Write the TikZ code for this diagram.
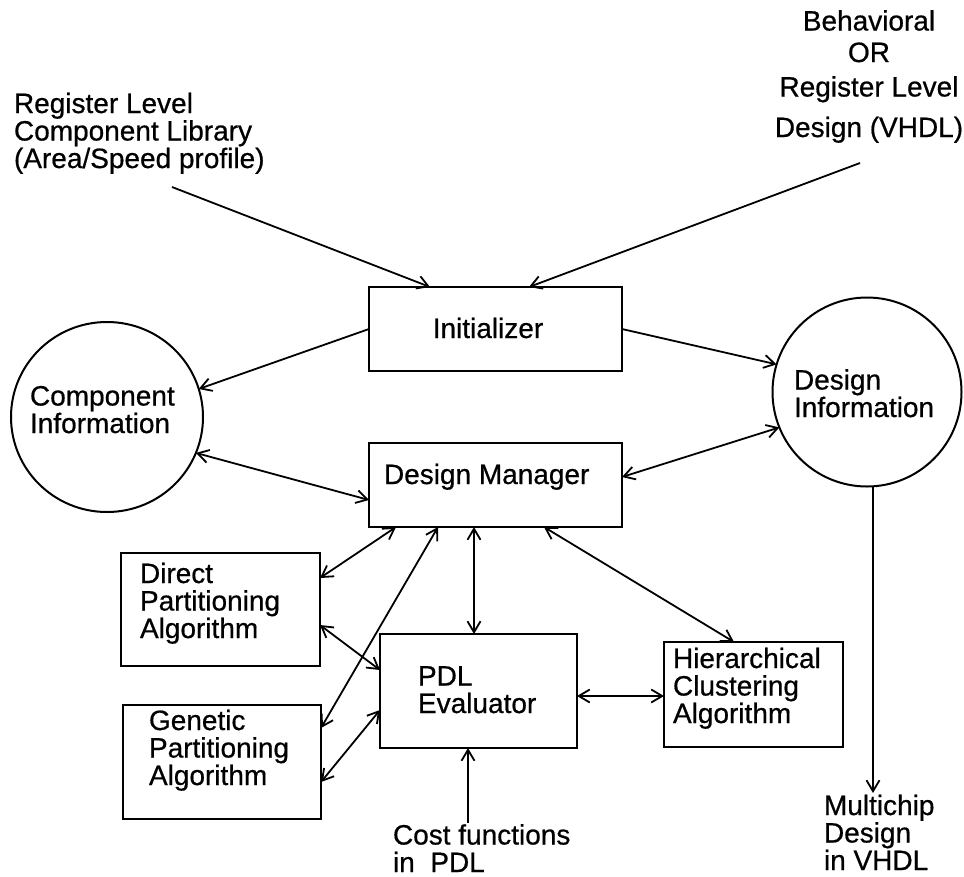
\documentclass[tikz,border=0pt]{standalone}
\usepackage{fontspec}
\setmainfont[FakeBold=0.6]{Liberation Sans}
\usetikzlibrary{arrows.meta,shapes.geometric,calc}
\begin{document}
\begin{tikzpicture}[x=1pt,y=-1pt,
  every node/.style={inner sep=0pt,outer sep=0pt},
  txt/.style={font=\fontsize{28}{27.5}\selectfont,align=left,anchor=base west},
  boxn/.style={draw,line width=2pt,rectangle,anchor=north west},
  blob/.style={draw,line width=2pt,ellipse},
  conn/.style={line width=1.8pt,-{Straight Barb[length=11pt,width=13pt,line width=1.8pt]}},
  biconn/.style={line width=1.8pt,{Straight Barb[length=11pt,width=13pt,line width=1.8pt]}-{Straight Barb[length=11pt,width=13pt,line width=1.8pt]}}]
\useasboundingbox (0,0) rectangle (964,876);
\fill[white] (0,0) rectangle (964,876);

% boxes
\node[boxn,minimum width=253pt,minimum height=84pt] (init) at (369,287) {};
\node[boxn,minimum width=253pt,minimum height=84pt] (dm) at (369,443) {};
\node[boxn,minimum width=199pt,minimum height=113pt] (direct) at (121,553) {};
\node[boxn,minimum width=198pt,minimum height=114pt] (gen) at (123,705) {};
\node[boxn,minimum width=197pt,minimum height=114pt] (pdl) at (380,634) {};
\node[boxn,minimum width=179pt,minimum height=105pt] (hier) at (664,642) {};
\node[blob,minimum width=192pt,minimum height=190pt] (comp) at (107,417) {};
\node[blob,minimum width=189pt,minimum height=189pt] (des) at (867,392) {};

% texts (anchored at the baseline of the last line)
\node[txt] (libT) at (14,168) {Register Level\\Component Library\\(Area/Speed profile)};
\node[txt,align=center,anchor=base] (behT) at (869,137) {Behavioral\\[4pt]OR\\[7pt]Register Level\\[13pt]Design (VHDL)};
\node[txt,anchor=base] (initT) at (488,338) {Initializer};
\node[txt] (dmT) at (384,484) {Design Manager};
\node[txt] (compT) at (30,433) {Component\\Information};
\node[txt] (desT) at (794,417) {Design\\Information};
\node[txt] (directT) at (140,638) {Direct\\Partitioning\\Algorithm};
\node[txt] (genT) at (149,785) {Genetic\\Partitioning\\Algorithm};
\node[txt] (pdlT) at (418,713) {PDL\\Evaluator};
\node[txt] (hierT) at (673,723) {Hierarchical\\Clustering\\Algorithm};
\node[txt] (costT) at (393,872) {Cost functions\\in~~PDL};
\node[txt] (multiT) at (824,870) {Multichip\\Design\\in VHDL};

% free ends
\coordinate (libE) at (172,187);
\coordinate (behE) at (860,163);
\coordinate (costE) at (468,823);
\coordinate (multiE) at (873,793);

% connectors
\draw[conn] (libE) -- ([xshift=61pt]init.north west);
\draw[conn] (behE) -- ([xshift=160pt]init.north west);
\draw[conn] (init.west) -- (comp.17);
\draw[conn] (init.east) -- (des.163);
\draw[biconn] (comp.-22) -- ([yshift=-15pt]dm.west);
\draw[biconn] ([yshift=8pt]dm.east) -- (des.-158);
\draw[biconn] ([xshift=27pt]dm.south west) -- ([yshift=-25pt]direct.north east);
\draw[biconn] ([xshift=105pt]dm.south west) -- ([xshift=94pt]pdl.north west);
\draw[biconn] ([xshift=175pt]dm.south west) -- ([xshift=70pt]hier.north west);
\draw[biconn] ([xshift=69pt]dm.south west) -- ([yshift=-23pt]gen.north east);
\draw[biconn] ([yshift=-72pt]direct.north east) -- ([yshift=-36pt]pdl.north west);
\draw[biconn] ([yshift=-77pt]gen.north east) -- ([yshift=-76pt]pdl.north west);
\draw[biconn] ([yshift=-5pt]pdl.east) -- ([yshift=-1.5pt]hier.west);
\draw[conn] (costE) -- ([xshift=88pt]pdl.south west);
\draw[conn] ([xshift=6pt]des.south) -- (multiE);
\end{tikzpicture}
\end{document}
